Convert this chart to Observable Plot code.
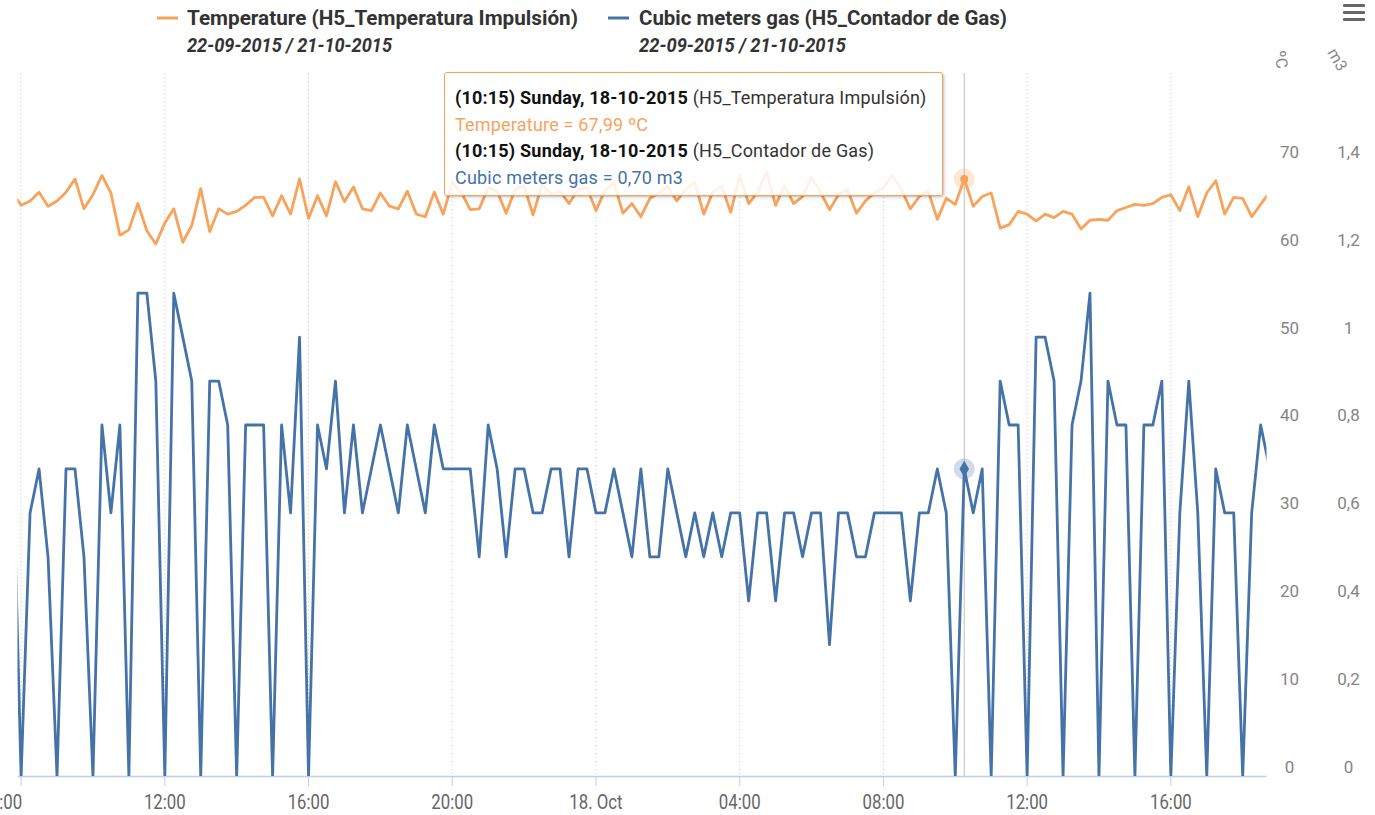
<!DOCTYPE html>
<html>
<head>
<meta charset="utf-8">
<script src="https://cdn.jsdelivr.net/npm/d3@7"></script>
<script src="https://cdn.jsdelivr.net/npm/@observablehq/plot@0.6"></script>
<style>
  html,body{margin:0;padding:0;background:#fff;}
  #wrap{position:relative;width:1375px;height:815px;overflow:hidden;}
  #chart{position:absolute;left:0;top:0;}
  #legend{position:absolute;left:0;top:0;}
  .tip{position:absolute;left:444px;top:72px;width:499px;height:124px;box-sizing:border-box;
       border:1px solid #f7a35c;border-radius:3px;background:rgba(255,255,255,0.85);
       box-shadow:1px 1px 2px rgba(0,0,0,0.18),2px 2px 5px rgba(0,0,0,0.08);
       font-family:Roboto,"Liberation Sans",sans-serif;font-size:18px;letter-spacing:0.2px;line-height:26.5px;color:#333;
       padding:12px 0 0 10px;white-space:nowrap;}
  .tip b{color:#111;font-weight:bold;}
  .axt{position:absolute;font-family:Roboto,sans-serif;font-size:16px;color:#888;white-space:nowrap;}
  .menu{position:absolute;left:1343px;width:22px;height:3px;background:#666;border-radius:1px;}
</style>
</head>
<body>
<div id="wrap">
  <div id="chart"></div>
  <svg id="legend" width="1375" height="66"></svg>
  <div class="tip" id="tip"></div>
  <div class="axt" style="left:1272px;top:50px;transform:rotate(80deg);">ºC</div>
  <div class="axt" style="left:1326px;top:50px;transform:rotate(60deg);">m3</div>
  <div class="menu" style="top:4px"></div>
  <div class="menu" style="top:11px"></div>
  <div class="menu" style="top:18px"></div>
</div>
<script>
// ---------------- data ----------------
const seriesNames = ["Temperature (H5_Temperatura Impulsión)", "Cubic meters gas (H5_Contador de Gas)"];
const seriesRanges = ["22-09-2015 / 21-10-2015", "22-09-2015 / 21-10-2015"];
const seriesColors = ["#f7a35c", "#4572a7"];
const sensorNames = ["H5_Temperatura Impulsión", "H5_Contador de Gas"];

// readings every 15 minutes, first reading 17-10-2015 07:45
const firstReading = "2015-10-17T07:45:00Z";
const readingMinutes = 15;

// Temperature (ºC)
const temperature = [
  66.5,                       // 07:45
  65.0, 65.5, 66.5, 64.9,     // 08
  65.5, 66.5, 68.0, 64.6,     // 09
  66.2, 68.4, 66.4, 61.6,     // 10
  62.2, 65.2, 62.1, 60.6,     // 11
  63.0, 64.6, 60.8, 62.7,     // 12
  66.9, 62.0, 64.6, 64.0,     // 13
  64.3, 65.0, 65.9, 65.9,     // 14
  63.8, 66.1, 64.0, 68.0,     // 15
  63.5, 66.1, 63.8, 67.7,     // 16
  65.4, 67.1, 64.6, 64.4,     // 17
  66.4, 64.9, 64.6, 66.6,     // 18
  64.0, 63.7, 66.5, 64.0,     // 19
  67.6, 66.5, 64.5, 64.6,     // 20
  67.0, 66.6, 64.1, 66.8,     // 21
  67.2, 63.9, 67.4, 66.3,     // 22
  66.6, 65.2, 66.8, 67.0,     // 23
  64.4, 66.7, 67.6, 64.1,     // 18-10 00
  65.2, 63.7, 65.8, 66.4,     // 01
  67.2, 65.5, 66.8, 67.6,     // 02
  64.0, 66.5, 67.2, 64.2,     // 03
  68.4, 65.2, 66.5, 68.8,     // 04
  65.0, 67.3, 65.2, 66.0,     // 05
  68.2, 66.5, 64.5, 66.2,     // 06
  66.8, 64.1, 65.5, 66.4,     // 07
  67.0, 68.4, 66.8, 64.6,     // 08
  66.0, 66.6, 63.4, 65.8,     // 09
  65.1, 67.99, 64.9, 66.0,    // 10
  66.4, 62.4, 62.8, 64.3,     // 11
  64.0, 63.2, 64.0, 63.6,     // 12
  64.3, 64.0, 62.3, 63.3,     // 13
  63.4, 63.3, 64.4, 64.75,    // 14
  65.1, 65.0, 65.2, 65.9,     // 15
  66.2, 64.4, 67.1, 63.7,     // 16
  66.4, 67.8, 64.0, 65.9,     // 17
  65.8, 63.7, 65.1, 66.5      // 18
];

// Cubic meters gas (m3)
const gasM3 = [
  0.8,                        // 07:45
  0, 0.6, 0.7, 0.5,           // 08
  0, 0.7, 0.7, 0.5,           // 09
  0, 0.8, 0.6, 0.8,           // 10
  0, 1.1, 1.1, 0.9,           // 11
  0, 1.1, 1.0, 0.9,           // 12
  0, 0.9, 0.9, 0.8,           // 13
  0, 0.8, 0.8, 0.8,           // 14
  0, 0.8, 0.6, 1.0,           // 15
  0, 0.8, 0.7, 0.9,           // 16
  0.6, 0.8, 0.6, 0.7,         // 17
  0.8, 0.7, 0.6, 0.8,         // 18
  0.7, 0.6, 0.8, 0.7,         // 19
  0.7, 0.7, 0.7, 0.5,         // 20
  0.8, 0.7, 0.5, 0.7,         // 21
  0.7, 0.6, 0.6, 0.7,         // 22
  0.7, 0.5, 0.7, 0.7,         // 23
  0.6, 0.6, 0.7, 0.6,         // 18-10 00
  0.5, 0.7, 0.5, 0.5,         // 01
  0.7, 0.6, 0.5, 0.6,         // 02
  0.5, 0.6, 0.5, 0.6,         // 03
  0.6, 0.4, 0.6, 0.6,         // 04
  0.4, 0.6, 0.6, 0.5,         // 05
  0.6, 0.6, 0.3, 0.6,         // 06
  0.6, 0.5, 0.5, 0.6,         // 07
  0.6, 0.6, 0.6, 0.4,         // 08
  0.6, 0.6, 0.7, 0.6,         // 09
  0, 0.7, 0.6, 0.7,           // 10
  0, 0.9, 0.8, 0.8,           // 11
  0, 1.0, 1.0, 0.9,           // 12
  0, 0.8, 0.9, 1.1,           // 13
  0, 0.9, 0.8, 0.8,           // 14
  0, 0.8, 0.8, 0.9,           // 15
  0, 0.6, 0.9, 0.6,           // 16
  0, 0.7, 0.6, 0.6,           // 17
  0, 0.6, 0.8, 0.7            // 18
];

const xDomain = ["2015-10-17T07:54:50Z", "2015-10-18T18:40:35Z"];
const xTickTimes = ["2015-10-17T08:00Z","2015-10-17T12:00Z","2015-10-17T16:00Z","2015-10-17T20:00Z",
                    "2015-10-18T00:00Z","2015-10-18T04:00Z","2015-10-18T08:00Z","2015-10-18T12:00Z","2015-10-18T16:00Z"];
const xTickLabels = ["08:00","12:00","16:00","20:00","18. Oct","04:00","08:00","12:00","16:00"];
const tempTicks = [0, 10, 20, 30, 40, 50, 60, 70];
const gasTickLabels = ["0", "0,2", "0,4", "0,6", "0,8", "1", "1,2", "1,4"];
const tempMax = 80;
const gasToTemp = 50;              // 1,4 m3 lines up with 70 ºC
const hoverTime = "2015-10-18T10:15:00Z";

// ---------------- build ----------------
const t0 = new Date(firstReading).getTime();
const rows = temperature.map((v, i) => ({
  t: new Date(t0 + i * readingMinutes * 60000),
  temp: v,
  gas: gasM3[i]
}));
const hover = rows.find(d => +d.t === +new Date(hoverTime));
const ticks = xTickTimes.map(s => new Date(s));
const tickLabel = d => xTickLabels[ticks.findIndex(t => +t === +d)];
const gasY = d => d.gas * gasToTemp;
const [tempColor, gasColor] = seriesColors;

const chart = Plot.plot({
  width: 1375,
  height: 815,
  marginLeft: 17.5,
  marginRight: 108.5,
  marginTop: 73,
  marginBottom: 39,
  style: {background: "transparent", fontFamily: "Roboto, sans-serif", overflow: "visible"},
  x: {type: "utc", domain: xDomain.map(s => new Date(s))},
  y: {domain: [0, tempMax]},
  marks: [
    Plot.ruleX(ticks, {stroke: "#c4c4c4", strokeDasharray: "1,3", strokeWidth: 1}),
    Plot.ruleY([0], {stroke: "#c0d0e0", strokeWidth: 1.5}),
    Plot.axisX({ticks, tickSize: 10, stroke: "#c0d0e0", strokeOpacity: 1, tickFormat: () => "", label: null}),
    Plot.axisX({ticks: ticks.slice(1), tickSize: 0, tickPadding: 18, tickFormat: tickLabel, label: null,
                fontSize: 21, fill: "#666", fontFamily: "Roboto, sans-serif"}),
    Plot.axisX({ticks: ticks.slice(0, 1), tickSize: 0, tickPadding: 18, tickFormat: tickLabel, label: null,
                textAnchor: "end", dx: 1, fontSize: 21, fill: "#666", fontFamily: "Roboto, sans-serif"}),
    Plot.axisY({anchor: "right", ticks: tempTicks, tickSize: 0, tickPadding: 0, dx: 22.5, dy: -9,
                textAnchor: "middle", fontSize: 17, color: "#858585", label: null, tickFormat: d => String(d)}),
    Plot.axisY({anchor: "right", ticks: tempTicks, tickSize: 0, tickPadding: 0, dx: 81.5, dy: -9,
                textAnchor: "middle", fontSize: 17, color: "#858585", label: null,
                tickFormat: d => gasTickLabels[tempTicks.indexOf(d)]}),
    Plot.ruleX([hover], {x: "t", stroke: "#c0c0c0", strokeWidth: 1}),
    Plot.line(rows, {x: "t", y: "temp", stroke: tempColor, strokeWidth: 2.8, clip: true}),
    Plot.line(rows, {x: "t", y: gasY, stroke: gasColor, strokeWidth: 2.8, clip: true}),
    Plot.dot([hover], {x: "t", y: "temp", r: 10.5, fill: tempColor, fillOpacity: 0.25}),
    Plot.dot([hover], {x: "t", y: "temp", r: 4, fill: tempColor}),
    Plot.dot([hover], {x: "t", y: gasY, r: 10.5, fill: gasColor, fillOpacity: 0.25}),
    Plot.dot([hover], {x: "t", y: gasY, r: 5, symbol: "diamond", fill: gasColor})
  ]
});
document.getElementById("chart").appendChild(chart);

// condense x tick labels like the reference's narrow font
chart.querySelectorAll('[aria-label="x-axis tick label"] text').forEach(el => {
  const w = el.getComputedTextLength();
  if (w > 0) { el.setAttribute("textLength", (w * 0.8).toFixed(1)); el.setAttribute("lengthAdjust", "spacingAndGlyphs"); }
});

// ---------------- legend ----------------
const lg = d3.select("#legend");
const legendX = [157, 608];
const textX = [187, 639];
const nameWidths = [391, 368];
const rangeWidths = [205, 207];
seriesNames.forEach((name, i) => {
  lg.append("line").attr("x1", legendX[i]).attr("x2", legendX[i] + 21).attr("y1", 18).attr("y2", 18)
    .attr("stroke", seriesColors[i]).attr("stroke-width", 3);
  lg.append("text").attr("x", textX[i]).attr("y", 25).text(name)
    .attr("font-family", "Roboto, sans-serif").attr("font-weight", "bold").attr("font-size", 20)
    .attr("fill", "#333").attr("textLength", nameWidths[i]).attr("lengthAdjust", "spacingAndGlyphs");
  lg.append("text").attr("x", textX[i]).attr("y", 52).text(seriesRanges[i])
    .attr("font-family", "Roboto, sans-serif").attr("font-weight", "bold").attr("font-style", "italic")
    .attr("font-size", 20).attr("fill", "#333").attr("textLength", rangeWidths[i]).attr("lengthAdjust", "spacingAndGlyphs");
});

// ---------------- tooltip ----------------
const fmtHead = d3.utcFormat("(%H:%M) %A, %d-%m-%Y");
const comma = v => v.toFixed(2).replace(".", ",");
const tip = document.getElementById("tip");
tip.innerHTML =
  `<div><b>${fmtHead(hover.t)}</b> (${sensorNames[0]})</div>` +
  `<div style="color:${tempColor}">Temperature = ${comma(hover.temp)} ºC</div>` +
  `<div><b>${fmtHead(hover.t)}</b> (${sensorNames[1]})</div>` +
  `<div style="color:${gasColor}">Cubic meters gas = ${comma(hover.gas)} m3</div>`;
</script>
</body>
</html>
